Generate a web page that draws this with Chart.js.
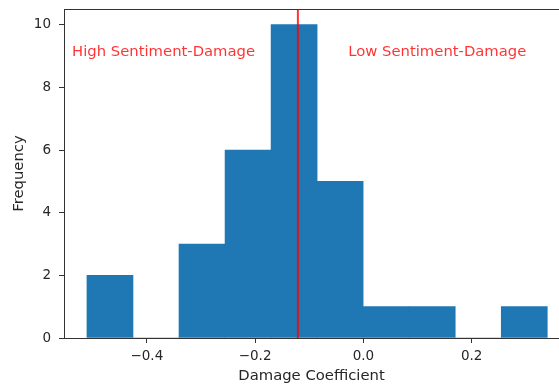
<!DOCTYPE html>
<html>
<head>
<meta charset="utf-8">
<script src="https://cdn.jsdelivr.net/npm/chart.js@4"></script>
<style>
  html, body { margin: 0; padding: 0; background: #fff; }
  #wrap { width: 559px; height: 386px; }
</style>
</head>
<body>
<div id="wrap"><canvas id="c" width="559" height="386"></canvas></div>
<script>
// Histogram of damage coefficients: 10 equal-width bins
const binEdges = [-0.5106, -0.4256, -0.3406, -0.2555, -0.1705, -0.0855, -0.0005, 0.0846, 0.1696, 0.2546, 0.3397];
const binCounts = [2, 0, 3, 6, 10, 5, 1, 1, 0, 1];
const xTicks = [-0.4, -0.2, 0.0, 0.2];
const yTicks = [0, 2, 4, 6, 8, 10];
const splitValue = -0.121;
const annotations = [
  { text: 'High Sentiment-Damage', x: -0.538, y: 9 },
  { text: 'Low Sentiment-Damage', x: -0.028, y: 9 }
];

const xMin = -0.553, xMax = 0.3613, yMax = 10.5;

const histData = binCounts.map((c, i) => ({ x: (binEdges[i] + binEdges[i + 1]) / 2, y: c }));

const TICK_FONT = { family: 'DejaVu Sans', size: 13.5 };
const LABEL_FONT = { family: 'DejaVu Sans', size: 14.8 };
const TEXT = '#262626';
const SPINE = '#333';
const MARK_RED = 'rgba(255, 0, 0, 0.8)';

const frameAndText = {
  id: 'frameAndText',
  afterDatasetsDraw(chart) {
    const { ctx, chartArea: a, scales } = chart;
    ctx.save();
    // top spine
    ctx.strokeStyle = SPINE;
    ctx.lineWidth = 1;
    ctx.beginPath();
    ctx.moveTo(a.left, a.top + 0.5);
    ctx.lineTo(a.right, a.top + 0.5);
    ctx.stroke();
    // region labels
    ctx.fillStyle = MARK_RED;
    ctx.font = '14.8px "DejaVu Sans"';
    ctx.textBaseline = 'alphabetic';
    ctx.textAlign = 'left';
    annotations.forEach(t => {
      ctx.fillText(t.text, scales.x.getPixelForValue(t.x), scales.y.getPixelForValue(t.y));
    });
    ctx.restore();
  }
};

new Chart(document.getElementById('c'), {
  data: {
    datasets: [
      {
        type: 'bar',
        data: histData,
        backgroundColor: '#1f77b4',
        borderWidth: 0,
        barPercentage: 1,
        categoryPercentage: 1,
        order: 2
      },
      {
        type: 'line',
        data: [{ x: splitValue, y: 0 }, { x: splitValue, y: yMax }],
        borderColor: MARK_RED,
        borderWidth: 2,
        pointRadius: 0,
        order: 1
      }
    ]
  },
  options: {
    responsive: false,
    animation: false,
    events: [],
    layout: { padding: { left: 0, right: 0, top: 9, bottom: 0 } },
    plugins: { legend: { display: false }, tooltip: { enabled: false } },
    scales: {
      x: {
        type: 'linear',
        min: xMin,
        max: xMax,
        offset: false,
        afterBuildTicks(s) { s.ticks = xTicks.map(v => ({ value: v })); },
        afterFit(s) { s.height = 48; s.paddingLeft = 0; s.paddingRight = 0; },
        ticks: {
          font: TICK_FONT, color: TEXT, padding: 5, maxRotation: 0,
          callback: v => (v < 0 ? '\u2212' : '') + Math.abs(v).toFixed(1)
        },
        grid: { display: true, offset: false, drawOnChartArea: false, drawTicks: true, tickLength: 5, color: SPINE },
        border: { display: true, color: SPINE, width: 1 },
        title: { display: true, text: 'Damage Coefficient', font: LABEL_FONT, color: TEXT, padding: { top: 0, bottom: 1 } }
      },
      y: {
        type: 'linear',
        min: 0,
        max: yMax,
        afterBuildTicks(s) { s.ticks = yTicks.map(v => ({ value: v })); },
        afterFit(s) { s.width = 64; s.paddingTop = 0; s.paddingBottom = 0; },
        ticks: { font: TICK_FONT, color: TEXT, padding: 8 },
        grid: { display: true, drawOnChartArea: false, drawTicks: true, tickLength: 5, color: SPINE },
        border: { display: true, color: SPINE, width: 1 },
        title: { display: true, text: 'Frequency', font: LABEL_FONT, color: TEXT, padding: { top: 10, bottom: 0 } }
      }
    }
  },
  plugins: [frameAndText]
});
</script>
</body>
</html>
